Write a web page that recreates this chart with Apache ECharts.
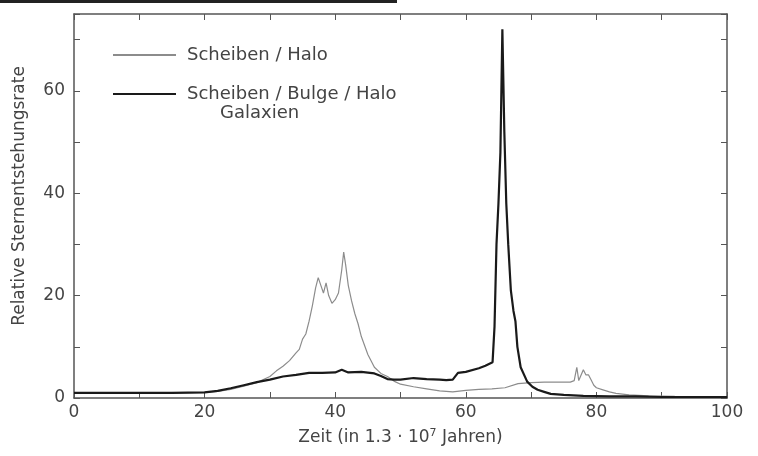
<!DOCTYPE html>
<html>
<head>
<meta charset="utf-8">
<script src="https://cdn.jsdelivr.net/npm/echarts@6/dist/echarts.min.js"></script>
<style>
  html, body { margin: 0; padding: 0; background: #fff; }
  #chart { width: 758px; height: 456px; }
</style>
</head>
<body>
<div id="chart"></div>
<script>
// Scheiben / Halo (thin grey line)
var haloX = [0, 5, 10, 15, 20, 22, 24, 26, 28, 30, 31, 32, 33, 34, 34.5, 35, 35.5, 36, 36.5, 37, 37.4, 37.8, 38.2, 38.6, 39, 39.5, 40, 40.5, 41, 41.3, 41.6, 42, 42.5, 43, 43.5, 44, 45, 46, 47, 48, 49, 50, 52, 54, 56, 58, 60, 62, 64, 66, 68, 70, 72, 74, 76, 76.6, 77, 77.3, 77.6, 78, 78.4, 78.8, 79.2, 79.6, 80, 81, 82, 83, 85, 88, 92, 96, 100];
var haloY = [1, 1, 1, 1, 1.1, 1.3, 1.7, 2.3, 3, 4.2, 5.3, 6.2, 7.3, 8.8, 9.5, 11.5, 12.5, 15, 18, 21.5, 23.5, 22, 20.5, 22.5, 20, 18.5, 19.2, 20.5, 25, 28.5, 26, 22, 19, 16.5, 14.5, 12, 8.5, 6, 4.8, 4.2, 3.3, 2.7, 2.2, 1.8, 1.4, 1.2, 1.5, 1.7, 1.8, 2.0, 2.8, 3.0, 3.1, 3.1, 3.1, 3.4, 6, 3.4, 3.5, 5.5, 4.5, 4.5, 3.5, 2.5, 2, 1.6, 1.2, 0.9, 0.6, 0.4, 0.3, 0.25, 0.2];

// Scheiben / Bulge / Halo Galaxien (thick black line)
var bulgeX = [0, 5, 10, 15, 20, 22, 24, 26, 28, 30, 32, 34, 36, 38, 40, 41, 42, 44, 46, 47, 48, 49, 50, 52, 54, 56, 57, 58, 58.8, 60, 62, 63, 64.1, 64.4, 64.7, 65.0, 65.3, 65.6, 65.9, 66.2, 66.5, 66.9, 67.3, 67.6, 67.9, 68.4, 69.4, 70.2, 71, 72, 73, 75, 78, 82, 86, 90, 95, 100];
var bulgeY = [1, 1, 1, 1, 1.1, 1.4, 1.9, 2.5, 3.1, 3.6, 4.2, 4.5, 4.9, 4.9, 5.0, 5.5, 5.0, 5.1, 4.8, 4.3, 3.7, 3.6, 3.6, 3.9, 3.7, 3.6, 3.5, 3.6, 4.9, 5.1, 5.8, 6.3, 7, 14, 30, 38, 48, 72, 52, 38, 30, 21, 17, 15, 10, 6, 3.2, 2.2, 1.6, 1.2, 0.8, 0.6, 0.4, 0.3, 0.3, 0.2, 0.2, 0.2];

var xTicks = [0, 20, 40, 60, 80, 100];
var yTicks = [0, 20, 40, 60];

function pairs(xs, ys) {
  var out = [];
  for (var i = 0; i < xs.length; i++) out.push([xs[i], ys[i]]);
  return out;
}

var chart = echarts.init(document.getElementById('chart'));
var font = 'DejaVu Sans';
var axisCol = '#555';

// box axis (no labels) used for the top and right sides
function boxAxis(pos, max) {
  return {
    type: 'value', position: pos, min: 0, max: max, interval: 10,
    axisLine: { show: true, onZero: false, lineStyle: { color: axisCol, width: 1.5 } },
    axisTick: { show: true, inside: true, length: 6, lineStyle: { color: axisCol } },
    axisLabel: { show: false },
    splitLine: { show: false }
  };
}

var option = {
  animation: false,
  backgroundColor: '#fff',
  textStyle: { fontFamily: font },
  grid: { left: 74, right: 31, top: 14, bottom: 58 },
  legend: {
    orient: 'vertical',
    left: 107,
    top: 41,
    itemWidth: 63,
    itemHeight: 14,
    itemGap: 21,
    itemStyle: { opacity: 0 },
    textStyle: { fontFamily: font, fontSize: 18, color: '#444', padding: [0, 0, 0, 6] },
    data: ['Scheiben / Halo', 'Scheiben / Bulge / Halo']
  },
  graphic: [
    { type: 'rect', left: 0, top: 0, shape: { width: 397, height: 3 }, style: { fill: '#222' } },
    { type: 'text', left: 220, top: 104, style: { text: 'Galaxien', font: '18px "DejaVu Sans"', fill: '#444' } }
  ],
  xAxis: [{
    type: 'value', min: 0, max: 100, interval: 10,
    name: 'Zeit (in 1.3 · 10{sup|7} Jahren)',
    nameLocation: 'middle', nameGap: 30,
    nameTextStyle: {
      fontSize: 17, color: '#444',
      rich: { sup: { fontSize: 11, color: '#444', padding: [0, 0, 8, 0] } }
    },
    axisLine: { onZero: false, lineStyle: { color: axisCol, width: 1.5 } },
    axisTick: { inside: true, length: 6, lineStyle: { color: axisCol } },
    axisLabel: {
      fontSize: 17, color: '#444', margin: 6,
      formatter: function (v) { return xTicks.indexOf(v) >= 0 ? String(v) : ''; }
    },
    splitLine: { show: false }
  }, boxAxis('top', 100)],
  yAxis: [{
    type: 'value', min: 0, max: 75, interval: 10,
    name: 'Relative Sternentstehungsrate',
    nameLocation: 'middle', nameGap: 46,
    nameTextStyle: { fontSize: 17, color: '#444', padding: [0, 0, 0, 20] },
    axisLine: { show: true, onZero: false, lineStyle: { color: axisCol, width: 1.5 } },
    axisTick: { show: true, inside: true, length: 6, lineStyle: { color: axisCol } },
    axisLabel: {
      fontSize: 17, color: '#444', margin: 9,
      formatter: function (v) { return yTicks.indexOf(v) >= 0 ? String(v) : ''; }
    },
    splitLine: { show: false }
  }, boxAxis('right', 75)],
  series: [{
    name: 'Scheiben / Halo',
    type: 'line',
    showSymbol: false,
    symbol: 'none',
    color: '#8c8c8c',
    lineStyle: { color: '#8c8c8c', width: 1.2 },
    data: pairs(haloX, haloY)
  }, {
    name: 'Scheiben / Bulge / Halo',
    type: 'line',
    showSymbol: false,
    symbol: 'none',
    color: '#1a1a1a',
    lineStyle: { color: '#1a1a1a', width: 2.2 },
    data: pairs(bulgeX, bulgeY)
  }]
};

chart.setOption(option);
</script>
</body>
</html>
